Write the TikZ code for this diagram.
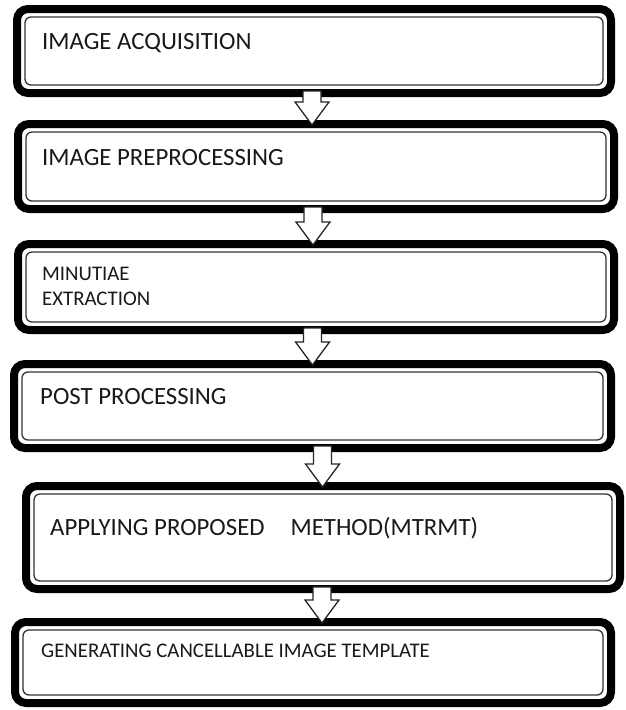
\documentclass[tikz,border=0pt]{standalone}
\usepackage{fontspec}
\setmainfont{Carlito}
\usetikzlibrary{calc}
\tikzset{
  flowbox/.style={draw=black, line width=8pt, rounded corners=11pt, fill=white, outer sep=0pt, inner sep=0pt},
  innerline/.style={draw=black!80, line width=1.3pt, rounded corners=6pt},
  blockarr/.style={draw=black!85, line width=1.3pt, fill=white, line join=miter},
  boxtext/.style={anchor=base west, inner sep=0pt, font=\fontsize{24.8}{29}\selectfont, text=black!90},
  smalltext/.style={boxtext, font=\fontsize{20.8}{24}\selectfont},
}
\newcommand\innerframe[1]{\draw[innerline] ([shift={(8pt,-8pt)}]#1.north west) rectangle ([shift={(-8pt,8pt)}]#1.south east);}
% #1 upper box, #2 lower box, #3 x of arrow axis (px)
\newcommand\flowarrow[3]{%
  \draw[blockarr] let \p1=(#1.south), \p2=(#2.north) in
    (#3pt-9pt,\y1+2pt) -- (#3pt-9pt,\y2+22pt) -- (#3pt-17pt,\y2+22pt) -- (#3pt,\y2-1pt)
    -- (#3pt+17pt,\y2+22pt) -- (#3pt+9pt,\y2+22pt) -- (#3pt+9pt,\y1+2pt) -- cycle;}
\begin{document}
\begin{tikzpicture}[x=1pt,y=-1pt]
\useasboundingbox (0,0) rectangle (626,710);
% boxes (centre lines of the thick border)
\node[flowbox, minimum width=594pt, minimum height=84pt] (b1) at (314,51) {};
\node[flowbox, minimum width=596pt, minimum height=85pt] (b2) at (316,166.5) {};
\node[flowbox, minimum width=596pt, minimum height=86pt] (b3) at (316,287) {};
\node[flowbox, minimum width=597pt, minimum height=84pt] (b4) at (312.5,406) {};
\node[flowbox, minimum width=594pt, minimum height=103pt] (b5) at (323,537.5) {};
\node[flowbox, minimum width=596pt, minimum height=81pt] (b6) at (313,662.5) {};
\innerframe{b1}\innerframe{b2}\innerframe{b3}\innerframe{b4}\innerframe{b5}\innerframe{b6}
% texts
\node[boxtext] (t1) at (42,49) {IMAGE ACQUISITION};
\node[boxtext] (t2) at (42,165) {IMAGE PREPROCESSING};
\node[smalltext] (t3a) at (42,280) {MINUTIAE};
\node[smalltext] (t3b) at (42,305) {EXTRACTION};
\node[boxtext] (t4) at (40,404) {POST PROCESSING};
\node[boxtext] (t5) at (50,535) {APPLYING PROPOSED\hspace{26pt}METHOD(MTRMT)};
\node[smalltext] (t6) at (41,657) {GENERATING CANCELLABLE IMAGE TEMPLATE};
% arrows
\flowarrow{b1}{b2}{312}
\flowarrow{b2}{b3}{313}
\flowarrow{b3}{b4}{312.5}
\flowarrow{b4}{b5}{322.5}
\flowarrow{b5}{b6}{322}
\end{tikzpicture}
\end{document}
